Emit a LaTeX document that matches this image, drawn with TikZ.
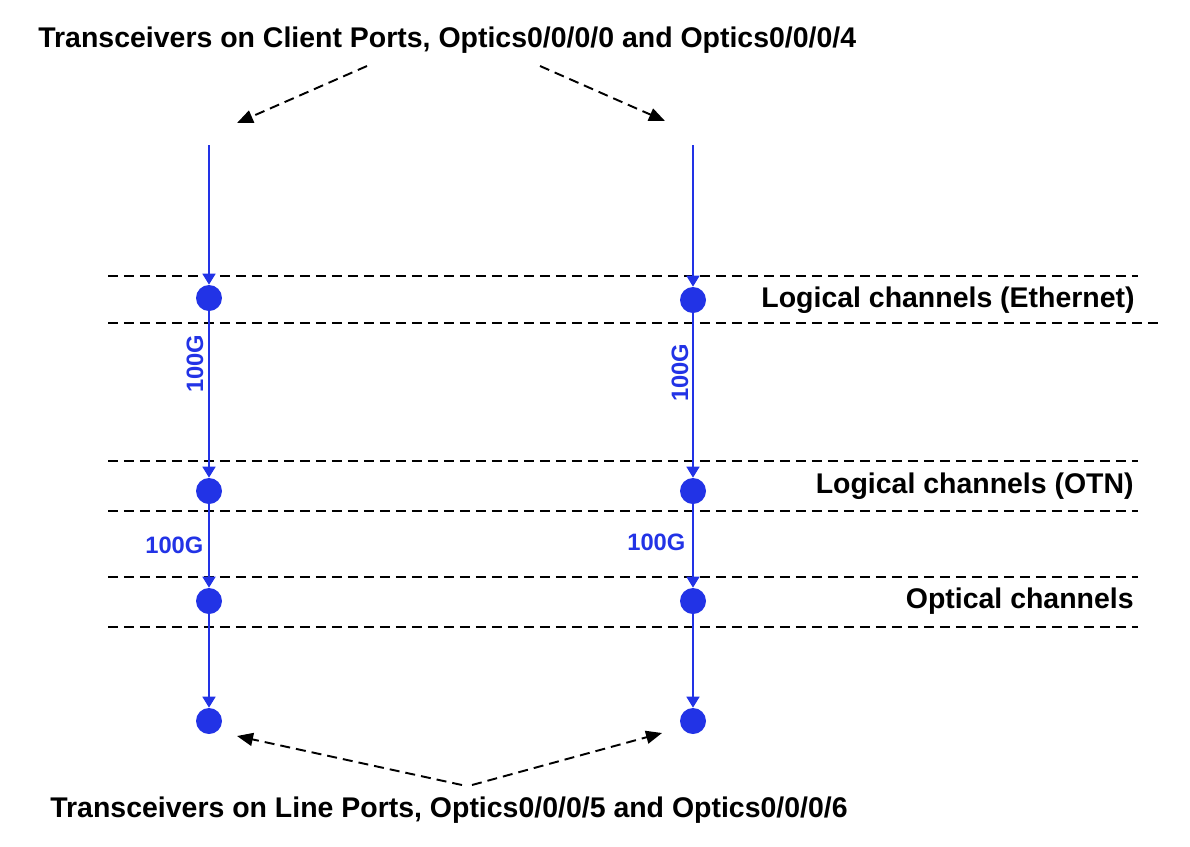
\documentclass[tikz,border=0pt]{standalone}
\usepackage{fontspec}
\setmainfont{Liberation Sans}
\usetikzlibrary{arrows.meta}
\definecolor{chblue}{RGB}{34,51,230}

\begin{document}
\begin{tikzpicture}[x=0.02cm,y=-0.02cm,
  dot/.style={fill=chblue,circle,inner sep=0,minimum size=0.52cm},
  flow/.style={chblue,line width=1pt,-{Triangle[width=0.26cm,length=0.22cm]}},
  hint/.style={black,line width=1.1pt,dash pattern=on 0.2cm off 0.12cm,-{Triangle[width=0.26cm,length=0.32cm]}},
  layer/.style={black,line width=1.1pt,dash pattern=on 0.2cm off 0.12cm},
  caption/.style={font=\fontsize{16.2}{19}\selectfont\bfseries,inner sep=0},
  rate/.style={font=\fontsize{13.5}{16}\selectfont\bfseries,text=chblue,inner sep=0}]
\useasboundingbox (0,0) rectangle (1190,846);

\def\xl{209}   % left column
\def\xr{693}   % right column
\def\xa{108}   % layer lines start
\def\xb{1138}  % layer lines end

% layer borders
\draw[layer] (\xa,276) -- (\xb,276);
\draw[layer] (\xa,323) -- (1158,323);
\foreach \y in {461,511,577,627}
  \draw[layer] (\xa,\y) -- (\xb,\y);

\node[caption,anchor=base east] (leth) at (1135,307) {Logical channels (Ethernet)};
\node[caption,anchor=base east] (lotn) at (1134,493) {Logical channels (OTN)};
\node[caption,anchor=base east] (loch) at (1134,608) {Optical channels};

% client side
\coordinate (in1) at (\xl,145);
\coordinate (in2) at (\xr,145);

\node[dot] (eth1) at (\xl,298) {};
\node[dot] (eth2) at (\xr,300) {};
\node[dot] (otn1) at (\xl,491) {};
\node[dot] (otn2) at (\xr,491) {};
\node[dot] (och1) at (\xl,601) {};
\node[dot] (och2) at (\xr,601) {};
\node[dot] (trx1) at (\xl,721) {};
\node[dot] (trx2) at (\xr,721) {};

\draw[flow] (in1) -- (eth1);
\draw[flow] (eth1) -- (otn1);
\draw[flow] (otn1) -- (och1);
\draw[flow] (och1) -- (trx1);
\draw[flow] (in2) -- (eth2);
\draw[flow] (eth2) -- (otn2);
\draw[flow] (otn2) -- (och2);
\draw[flow] (och2) -- (trx2);

\node[rate,rotate=90,anchor=base west] (r1) at (203,393) {100G};
\node[rate,rotate=90,anchor=base west] (r2) at (688,402) {100G};
\node[rate,anchor=base west] (r3) at (145,553) {100G};
\node[rate,anchor=base west] (r4) at (627,550) {100G};

% port captions
\node[caption,anchor=base west] (client) at (38,47) {Transceivers on Client Ports, Optics0/0/0/0 and Optics0/0/0/4};
\node[caption,anchor=base west] (line) at (50,817) {Transceivers on Line Ports, Optics0/0/0/5 and Optics0/0/0/6};

\coordinate (ca) at (367,66);
\coordinate (cb) at (540,66);
\coordinate (ct1) at (237,123);
\coordinate (ct2) at (665,121);
\coordinate (la) at (462,785);
\coordinate (lb) at (472,785);
\coordinate (lt1) at (237,736);
\coordinate (lt2) at (662,733);

\draw[hint] (ca) -- (ct1);
\draw[hint] (cb) -- (ct2);
\draw[hint] (la) -- (lt1);
\draw[hint] (lb) -- (lt2);
\end{tikzpicture}
\end{document}
